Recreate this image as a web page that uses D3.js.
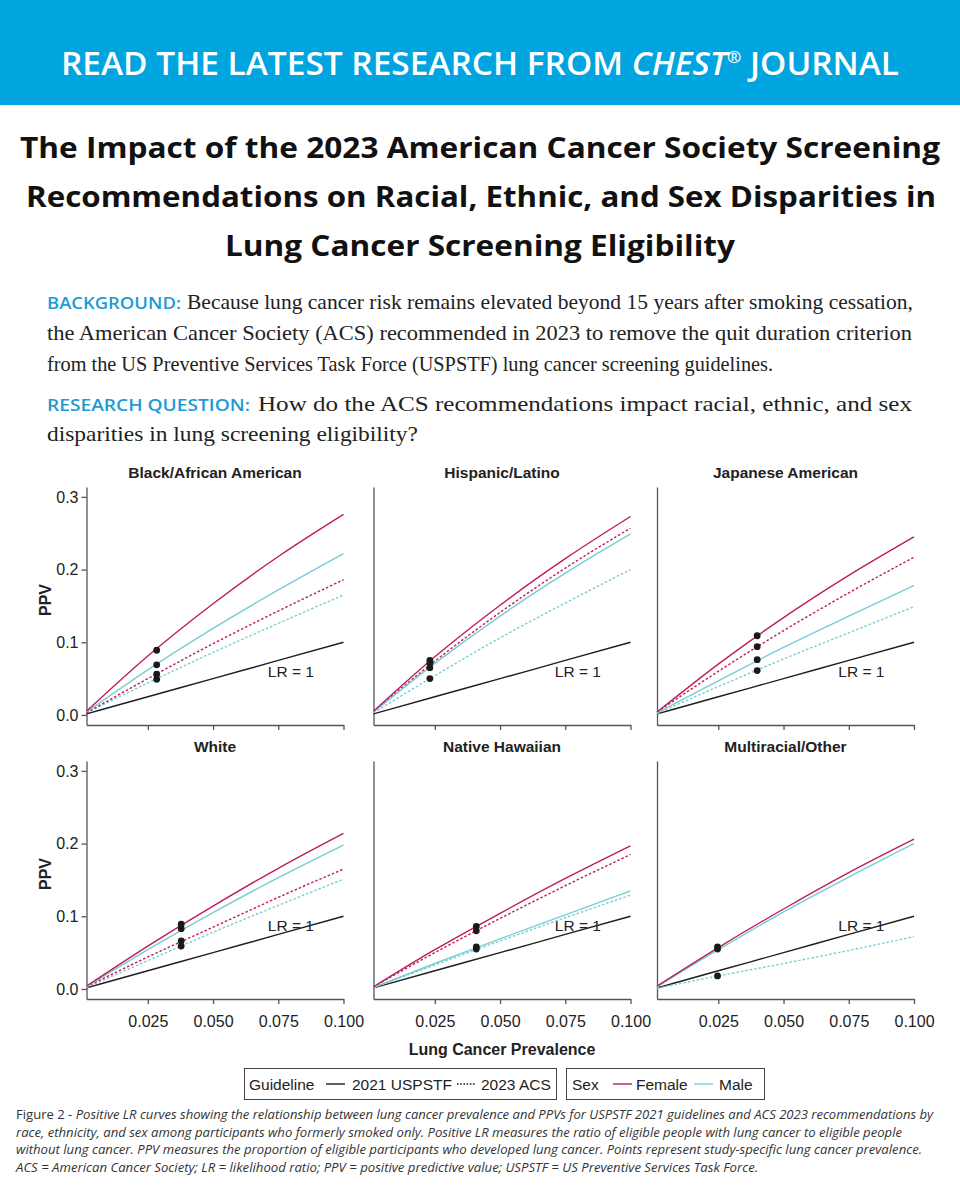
<!DOCTYPE html>
<html>
<head>
<meta charset="utf-8">
<script src="https://cdn.jsdelivr.net/npm/d3@7"></script>
<style>
  body { margin: 0; background: #fff; }
  svg { display: block; }
</style>
</head>
<body>
<svg id="chart" width="960" height="1200"></svg>
<script>
// ---- data ----
const panelNames = ["Black/African American", "Hispanic/Latino", "Japanese American",
                    "White", "Native Hawaiian", "Multiracial/Other"];

// prevalence points at which the curves were read
const prevalenceGrid = [0.0015, 0.025, 0.05, 0.075, 0.1];
const lrOne = [0.0015, 0.025, 0.05, 0.075, 0.1];

// PPV, 2021 USPSTF (solid)
const femaleUSPSTF = [
  [0.005, 0.081, 0.153, 0.218, 0.276],
  [0.005, 0.080, 0.151, 0.215, 0.273],
  [0.004, 0.070, 0.134, 0.192, 0.245],
  [0.004, 0.059, 0.114, 0.166, 0.214],
  [0.003, 0.054, 0.104, 0.152, 0.197],
  [0.004, 0.057, 0.110, 0.160, 0.206]
];
const maleUSPSTF = [
  [0.004, 0.062, 0.119, 0.172, 0.222],
  [0.004, 0.071, 0.136, 0.195, 0.249],
  [0.003, 0.047, 0.093, 0.136, 0.178],
  [0.003, 0.054, 0.105, 0.153, 0.198],
  [0.002, 0.035, 0.069, 0.102, 0.135],
  [0.003, 0.054, 0.106, 0.154, 0.200]
];
// PPV, 2023 ACS (dashed)
const femaleACS = [
  [0.003, 0.050, 0.098, 0.143, 0.186],
  [0.005, 0.074, 0.141, 0.202, 0.257],
  [0.004, 0.060, 0.116, 0.168, 0.217],
  [0.003, 0.044, 0.085, 0.126, 0.165],
  [0.003, 0.050, 0.097, 0.142, 0.185],
  null
];
const maleACS = [
  [0.003, 0.044, 0.086, 0.126, 0.165],
  [0.003, 0.054, 0.106, 0.154, 0.200],
  [0.002, 0.039, 0.077, 0.113, 0.149],
  [0.002, 0.039, 0.078, 0.115, 0.151],
  [0.002, 0.033, 0.066, 0.098, 0.129],
  [0.001, 0.018, 0.035, 0.053, 0.072]
];

// study-specific prevalence points
const studyPrevalence = [0.0284, 0.0231, 0.0399, 0.0378, 0.0409, 0.0247];
const studyPPV = [
  [0.089, 0.069, 0.056, 0.049],
  [0.075, 0.071, 0.065, 0.050],
  [0.109, 0.094, 0.076, 0.061],
  [0.089, 0.083, 0.066, 0.059],
  [0.086, 0.080, 0.058, 0.055],
  [0.058, 0.055, 0.018]
];

const xTicks = [0.025, 0.05, 0.075, 0.1];
const yTicks = [0.0, 0.1, 0.2, 0.3];
const lrLabelPos = [[0.071, 0.052], [0.071, 0.052], [0.071, 0.052],
                    [0.071, 0.080], [0.071, 0.080], [0.071, 0.080]];

const captionLines = [
  "Positive LR curves showing the relationship between lung cancer prevalence and PPVs for USPSTF 2021 guidelines and ACS 2023 recommendations by",
  "race, ethnicity, and sex among participants who formerly smoked only. Positive LR measures the ratio of eligible people with lung cancer to eligible people",
  "without lung cancer. PPV measures the proportion of eligible participants who developed lung cancer. Points represent study-specific lung cancer prevalence.",
  "ACS = American Cancer Society; LR = likelihood ratio; PPV = positive predictive value; USPSTF = US Preventive Services Task Force."
];

// ---- styles ----
const FEMALE = "#be1d5a", MALE = "#78cdd5", INK = "#222", BLUE = "#00a4df";
const SANS = "'Liberation Sans', Arial, sans-serif";

const svg = d3.select("#chart");
svg.append("rect").attr("width", 960).attr("height", 1200).attr("fill", "#fff");

//** HEADER *****************************************
svg.append("rect").attr("x", 0).attr("y", 0).attr("width", 960).attr("height", 105).attr("fill", BLUE);
let head = svg.append("text")
  .attr("x", 61).attr("y", 75)
  .attr("textLength", 838).attr("lengthAdjust", "spacingAndGlyphs")
  .style("font-family", "'Open Sans', sans-serif").style("font-weight", 600)
  .style("font-size", "33px").attr("fill", "#fff");
head.append("tspan").text("READ THE LATEST RESEARCH FROM ");
head.append("tspan").style("font-style", "italic").text("CHEST");
head.append("tspan").attr("dy", -12).style("font-size", "17px").text("®");
head.append("tspan").attr("dy", 12).text(" JOURNAL");

//** TITLE *****************************************
const titleLines = [
  {t: "The Impact of the 2023 American Cancer Society Screening", x: 20, w: 920, y: 158},
  {t: "Recommendations on Racial, Ethnic, and Sex Disparities in", x: 26, w: 910, y: 207},
  {t: "Lung Cancer Screening Eligibility", x: 225, w: 510, y: 256}
];
titleLines.forEach(l => {
  svg.append("text").attr("x", l.x).attr("y", l.y)
    .attr("textLength", l.w).attr("lengthAdjust", "spacingAndGlyphs")
    .style("font-family", "'Open Sans', sans-serif").style("font-weight", 700)
    .style("font-size", "29px").attr("fill", "#111").text(l.t);
});

//** BACKGROUND TEXT *****************************************
const labelStyle = s => s.style("font-family", "'Open Sans', sans-serif").style("font-weight", 600)
  .style("font-size", "17px").attr("fill", "#1d9ad6").attr("lengthAdjust", "spacingAndGlyphs");
const bodyStyle = s => s.style("font-family", "'Liberation Serif', serif")
  .style("font-size", "21.5px").attr("fill", "#222").attr("lengthAdjust", "spacingAndGlyphs");

svg.append("text").attr("x", 47).attr("y", 309).attr("textLength", 134).call(labelStyle).text("BACKGROUND:");
svg.append("text").attr("x", 187).attr("y", 309).attr("textLength", 726).call(bodyStyle)
  .text("Because lung cancer risk remains elevated beyond 15 years after smoking cessation,");
svg.append("text").attr("x", 47).attr("y", 340).attr("textLength", 865).call(bodyStyle)
  .text("the American Cancer Society (ACS) recommended in 2023 to remove the quit duration criterion");
svg.append("text").attr("x", 47).attr("y", 371).attr("textLength", 726).call(bodyStyle)
  .text("from the US Preventive Services Task Force (USPSTF) lung cancer screening guidelines.");
svg.append("text").attr("x", 47).attr("y", 411).attr("textLength", 203).call(labelStyle).text("RESEARCH QUESTION:");
svg.append("text").attr("x", 258).attr("y", 411).attr("textLength", 654).call(bodyStyle)
  .text("How do the ACS recommendations impact racial, ethnic, and sex");
svg.append("text").attr("x", 47).attr("y", 441).attr("textLength", 371).call(bodyStyle)
  .text("disparities in lung screening eligibility?");

//** PANELS *****************************************
const colLeft = [86.5, 373.5, 657];
const rowZero = [715, 989];
const plotW = 257;

panelNames.forEach(function (name, i) {
  const col = i % 3, row = Math.floor(i / 3);
  const left = colLeft[col], zeroY = rowZero[row];
  const g = svg.append("g").attr("class", "panel");

  const xScale = d3.scaleLinear().domain([0.0015, 0.1]).range([left, left + plotW]);
  const yScale = d3.scaleLinear().domain([-0.0138, 0.3136]).range([zeroY + 10, zeroY - 228]);

  // axes
  let xAxis = d3.axisBottom(xScale).tickValues(xTicks).tickSize(5).tickSizeOuter(0)
    .tickPadding(12).tickFormat(row === 1 ? d3.format(".3f") : "");
  let yAxis = d3.axisLeft(yScale).tickValues(col === 0 ? yTicks : []).tickSize(5).tickSizeOuter(0)
    .tickPadding(3).tickFormat(d3.format(".1f"));

  const ax = g.append("g").attr("transform", "translate(0," + (zeroY + 10) + ")").call(xAxis);
  const ay = g.append("g").attr("transform", "translate(" + left + ",0)").call(yAxis);
  [ax, ay].forEach(a => {
    a.selectAll("path, line").attr("stroke", "#555").attr("stroke-width", 1.3);
    a.selectAll("text").attr("fill", INK).style("font-family", SANS).style("font-size", "16px");
  });

  // panel title
  g.append("text").attr("x", left + plotW / 2).attr("y", zeroY - 237)
    .attr("text-anchor", "middle").style("font-family", SANS).style("font-weight", 700)
    .style("font-size", "15.5px").attr("fill", INK).text(name);

  const line = d3.line()
    .x((d, j) => xScale(prevalenceGrid[j]))
    .y(d => yScale(d))
    .curve(d3.curveMonotoneX);

  // LR = 1 reference
  g.append("path").attr("d", line(lrOne)).attr("fill", "none")
    .attr("stroke", "#1e1e1e").attr("stroke-width", 1.4);
  g.append("text").attr("x", xScale(lrLabelPos[i][0])).attr("y", yScale(lrLabelPos[i][1]))
    .style("font-family", SANS).style("font-size", "15.5px").attr("fill", INK).text("LR = 1");

  const series = [
    {v: maleACS[i], c: MALE, dash: "2.5,2"},
    {v: femaleACS[i], c: FEMALE, dash: "2.5,2"},
    {v: maleUSPSTF[i], c: MALE, dash: null},
    {v: femaleUSPSTF[i], c: FEMALE, dash: null}
  ];
  series.forEach(s => {
    if (!s.v) return;
    g.append("path").attr("d", line(s.v)).attr("fill", "none")
      .attr("stroke", s.c).attr("stroke-width", 1.4)
      .attr("stroke-dasharray", s.dash);
  });

  g.selectAll("circle.pt").data(studyPPV[i]).enter().append("circle")
    .attr("class", "pt")
    .attr("cx", xScale(studyPrevalence[i]))
    .attr("cy", d => yScale(d))
    .attr("r", 3.4).attr("fill", "#1a1a1a");

  // y label
  if (col === 0) {
    const cy = zeroY - 115;
    g.append("text").attr("transform", "translate(51," + cy + ") rotate(-90)")
      .attr("text-anchor", "middle").style("font-family", SANS).style("font-weight", 700)
      .style("font-size", "16px").attr("fill", INK).text("PPV");
  }
});

// x label
svg.append("text").attr("x", 502).attr("y", 1055).attr("text-anchor", "middle")
  .style("font-family", SANS).style("font-weight", 700).style("font-size", "16px")
  .attr("fill", INK).text("Lung Cancer Prevalence");

//** LEGEND *****************************************
const lg = svg.append("g").style("font-family", SANS).style("font-size", "15.5px").attr("fill", INK);
lg.append("rect").attr("x", 244.5).attr("y", 1068.5).attr("width", 312).attr("height", 31)
  .attr("fill", "none").attr("stroke", "#444").attr("stroke-width", 1);
lg.append("rect").attr("x", 566.5).attr("y", 1068.5).attr("width", 198).attr("height", 31)
  .attr("fill", "none").attr("stroke", "#444").attr("stroke-width", 1);
const legY = 1089.5, legLineY = 1084;
[[249, "Guideline"], [352, "2021 USPSTF"], [481, "2023 ACS"],
 [572, "Sex"], [636, "Female"], [719, "Male"]].forEach(d => {
  lg.append("text").attr("x", d[0]).attr("y", legY).text(d[1]);
});
[[326, "#1e1e1e", null], [457, "#1e1e1e", "1.6,1.6"], [613, FEMALE, null], [694, MALE, null]].forEach(d => {
  lg.append("line").attr("x1", d[0]).attr("x2", d[0] + 19).attr("y1", legLineY).attr("y2", legLineY)
    .attr("stroke", d[1]).attr("stroke-width", 1.4).attr("stroke-dasharray", d[2]);
});

//** CAPTION *****************************************
const capW = [917, 886, 906, 742];
const capY = [1119, 1137, 1154, 1172];
captionLines.forEach((t, i) => {
  let c = svg.append("text").attr("x", 16).attr("y", capY[i])
    .attr("textLength", capW[i]).attr("lengthAdjust", "spacingAndGlyphs")
    .style("font-family", "'Open Sans', sans-serif").style("font-size", "12.5px").attr("fill", "#333");
  if (i === 0) c.append("tspan").text("Figure 2 - ");
  c.append("tspan").style("font-style", "italic").text(t);
});
</script>
</body>
</html>
